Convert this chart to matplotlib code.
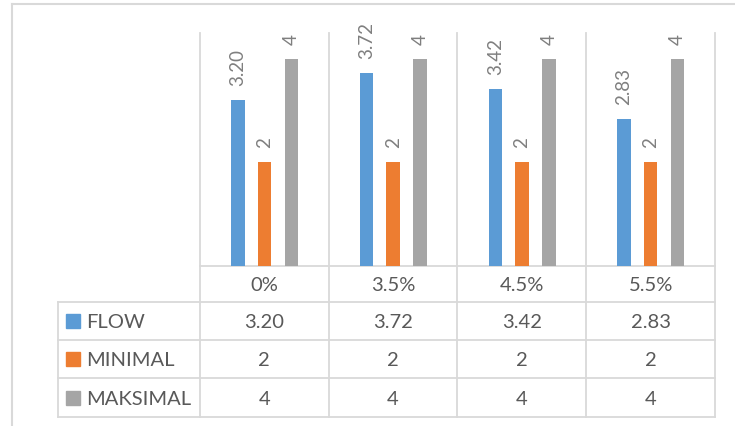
import numpy as np
import matplotlib
matplotlib.use("Agg")
import matplotlib.pyplot as plt
from matplotlib.patches import Rectangle

plt.rcParams['font.family'] = ['Lato', 'DejaVu Sans']

# chart data
categories = ["0%", "3.5%", "4.5%", "5.5%"]
series_names = ["FLOW", "MINIMAL", "MAKSIMAL"]
flow = [3.20, 3.72, 3.42, 2.83]
minimal = [2, 2, 2, 2]
maksimal = [4, 4, 4, 4]
label_fmt = ["{:.2f}", "{:.0f}", "{:.0f}"]

colors = ["#5B9BD5", "#ED7D31", "#A5A5A5"]
grid_c = "#D9D9D9"
text_c = "#595959"

W, H = 735, 427
fig = plt.figure(figsize=(W / 100, H / 100), dpi=100)

# pixel-space overlay for borders and the data table
bg = fig.add_axes([0, 0, 1, 1])
bg.set_xlim(0, W)
bg.set_ylim(H, 0)
bg.axis("off")

# plot area (pixels)
px0, px1 = 200, 715
py_top, py_base = 34, 267
ax = fig.add_axes([px0 / W, (H - py_base) / H, (px1 - px0) / W, (py_base - py_top) / H])
ax.set_xlim(-0.5, len(categories) - 0.5)
ax.set_ylim(0, 4.5)
ax.axis("off")

x = np.arange(len(categories))
width = 0.105
offsets = [-0.206, 0, 0.21]
for vals, off, c, fmt in zip([flow, minimal, maksimal], offsets, colors, label_fmt):
    bars = ax.bar(x + off, vals, width, color=c, zorder=3)
    for b, v in zip(bars, vals):
        ax.annotate(fmt.format(v), (b.get_x() + b.get_width() / 2, v),
                    xytext=(0, 11), textcoords="offset points",
                    rotation=90, ha="center", va="bottom",
                    fontsize=13.5, color="#7F7F7F")

# outer chart border
bg.plot([12, W], [5, 5], color=grid_c, lw=1.5)
bg.plot([12, 12], [5, H], color=grid_c, lw=1.5)

# category dividers through plot area and table
cell_w = (px1 - px0) / len(categories)
col_edges = [px0 + i * cell_w for i in range(len(categories) + 1)]
row_edges = [py_base, 303, 341, 379, 418]
tbl_left = 58

for xe in col_edges:
    bg.plot([xe, xe], [py_top, row_edges[-1]], color=grid_c, lw=1.3, zorder=1)
bg.plot([tbl_left, tbl_left], [row_edges[1], row_edges[-1]], color=grid_c, lw=1.3)
bg.plot([px0, px1], [py_base, py_base], color=grid_c, lw=1.3)
for ye in row_edges[1:]:
    bg.plot([tbl_left, px1], [ye, ye], color=grid_c, lw=1.3)

# header row
for i, cat in enumerate(categories):
    cx = col_edges[i] + cell_w / 2
    bg.text(cx, (row_edges[0] + row_edges[1]) / 2 + 1, cat, ha="center", va="center",
            fontsize=14.5, color=text_c)

# data rows with legend keys
table_vals = [flow, minimal, maksimal]
for r, (name, vals, c, fmt) in enumerate(zip(series_names, table_vals, colors, label_fmt)):
    y0, y1 = row_edges[r + 1], row_edges[r + 2]
    cy = (y0 + y1) / 2
    bg.add_patch(Rectangle((66, cy - 7), 14, 14, color=c))
    bg.text(86, cy + 1, name, ha="left", va="center", fontsize=14.5, color=text_c)
    for i, v in enumerate(vals):
        cx = col_edges[i] + cell_w / 2
        bg.text(cx, cy + 1, fmt.format(v), ha="center", va="center",
                fontsize=14.5, color=text_c)

fig.savefig("out.png", dpi=100)
